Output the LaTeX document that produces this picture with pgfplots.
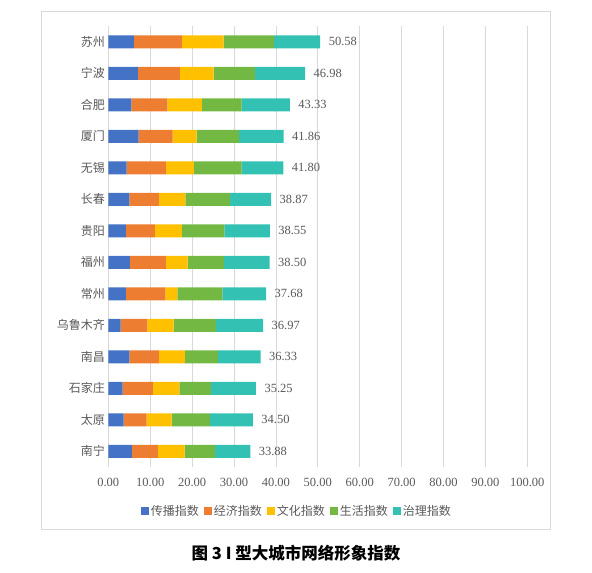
\documentclass[border=0pt]{standalone}
\usepackage{pgfplots}
\pgfplotsset{compat=1.18}
\usepackage{pgfplotstable}
\usepackage{fontspec}
\setmainfont{Liberation Serif}
\newfontfamily\cjk{Noto Sans CJK SC}

\definecolor{cA}{HTML}{4472C4}
\definecolor{cB}{HTML}{ED7D31}
\definecolor{cC}{HTML}{FFC000}
\definecolor{cD}{HTML}{72B843}
\definecolor{cE}{HTML}{33C1B4}
\definecolor{txt}{HTML}{595959}
\definecolor{gridc}{HTML}{D9D9D9}

% y = row from the top, a..e = 传播 经济 文化 生活 治理
\pgfplotstableread{
y  a     b      c     d      e      total
0  6.13  11.45  9.95  12.07  10.98  50.58
1  7.08  10.02  8.04  9.86   11.98  46.98
2  5.49  8.59   8.27  9.47   11.51  43.33
3  7.24  8.11   5.73  10.11  10.67  41.86
4  4.38  9.38   6.69  11.37  9.98   41.80
5  5.01  7.08   6.29  10.66  9.83   38.87
6  4.22  6.92   6.44  10.10  10.87  38.55
7  5.17  8.59   5.17  8.67   10.90  38.50
8  4.22  9.38   2.87  10.73  10.48  37.68
9  2.94  6.37   6.28  10.11  11.27  36.97
10 5.01  7.08   6.21  7.87   10.16  36.33
11 3.42  7.24   6.29  7.55   10.75  35.25
12 3.66  5.49   5.97  9.14   10.24  34.50
13 5.65  6.20   6.37  7.24   8.42   33.88
}\data

\pgfplotsset{common/.style={
  at={(108.3pt,106pt)}, anchor=south west,
  scale only axis, width=419pt, height=441pt,
  xmin=0, xmax=100, ymin=-0.5, ymax=13.5, y dir=reverse}}

\begin{document}
\begin{tikzpicture}
\path (0pt,0pt) rectangle (592pt,573pt);
\draw[gridc, line width=0.8pt] (41.7pt,43.7pt) rectangle (550.7pt,561.7pt);
\begin{axis}[common,
  xbar stacked, bar width=13pt,
  xtick={0,10,...,100},
  ytick={0,...,13},
  yticklabels={苏州,宁波,合肥,厦门,无锡,长春,贵阳,福州,常州,乌鲁木齐,南昌,石家庄,太原,南宁},
  yticklabel style={font=\cjk\fontsize{12}{14}\selectfont, text=txt},
  xticklabel style={font=\fontsize{12.5}{14}\selectfont, text=txt,
    /pgf/number format/.cd, fixed, fixed zerofill, precision=2, assume math mode=true},
  xmajorgrids, grid style={gridc, line width=0.8pt},
  axis line style={draw=none}, major tick style={draw=none},
  xticklabel shift=8pt,
  legend style={at={(0.45,-0.10)}, anchor=center, draw=none, fill=none,
    legend columns=5, font=\cjk\fontsize{12}{14}\selectfont, text=txt,
    /tikz/every even column/.append style={column sep=3pt}},
  legend image code/.code={\fill[#1] (0pt,-4pt) rectangle (8pt,4pt);},
]
\addplot[draw=none, fill=cA] table[x=a, y=y] {\data};
\addlegendentry{传播指数}
\addplot[draw=none, fill=cB] table[x=b, y=y] {\data};
\addlegendentry{经济指数}
\addplot[draw=none, fill=cC] table[x=c, y=y] {\data};
\addlegendentry{文化指数}
\addplot[draw=none, fill=cD] table[x=d, y=y] {\data};
\addlegendentry{生活指数}
\addplot[draw=none, fill=cE] table[x=e, y=y] {\data};
\addlegendentry{治理指数}
\end{axis}
% totals, written to the right of each bar
\begin{axis}[common, hide axis]
\addplot[draw=none, mark=none, point meta=explicit symbolic,
  nodes near coords,
  every node near coord/.append style={anchor=west, font=\fontsize{12.5}{14}\selectfont, text=txt, xshift=5pt}]
  table[x=total, y=y, meta=total] {\data};
\end{axis}
\node[font=\cjk\bfseries\fontsize{16.5}{19}\selectfont] at (296pt,20pt) {图 3 I 型大城市网络形象指数};
\end{tikzpicture}
\end{document}
